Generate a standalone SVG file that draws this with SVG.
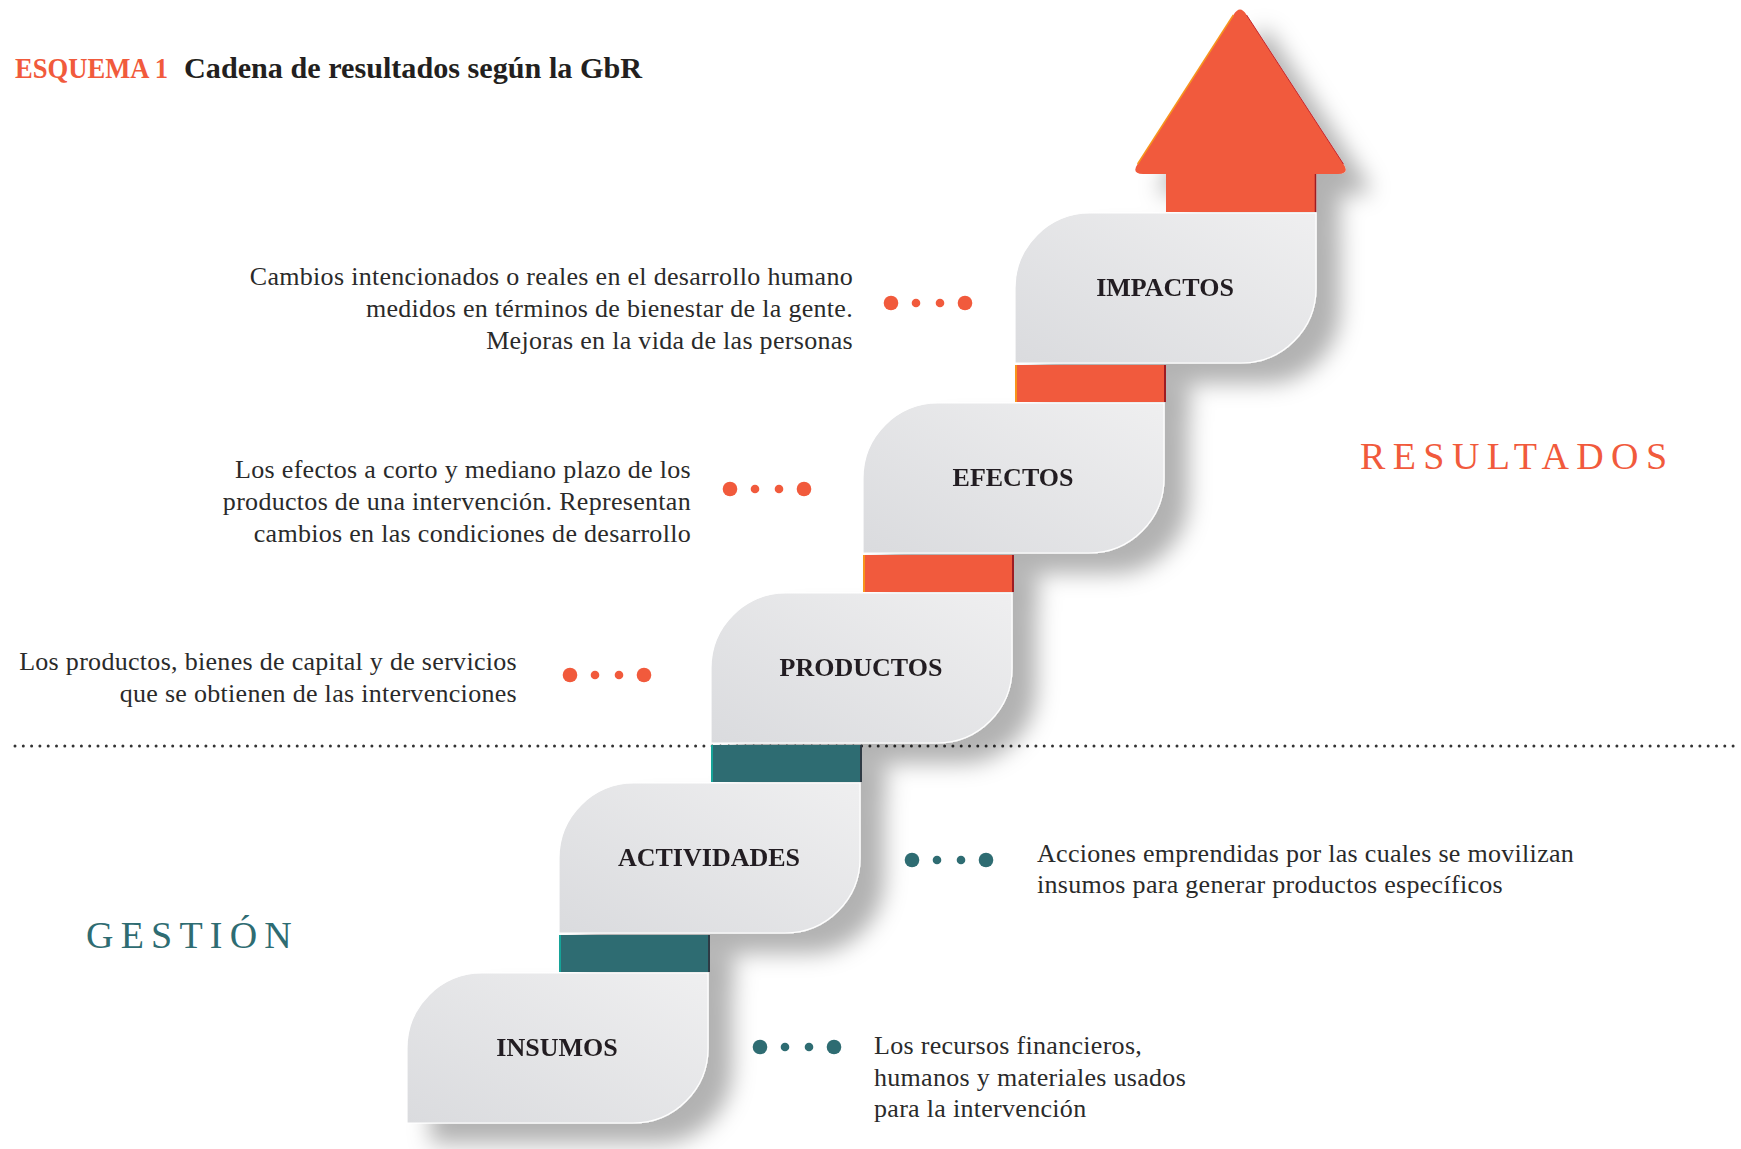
<svg xmlns="http://www.w3.org/2000/svg" width="1741" height="1149" viewBox="0 0 1741 1149">
  <defs>
    <style>
      .title { font-family: "Liberation Serif", serif; font-weight: bold; font-size: 30px; }
      .label { font-family: "Liberation Serif", serif; font-weight: bold; font-size: 26px; fill: #231f20; text-anchor: middle; }
      .desc { font-family: "Liberation Serif", serif; font-size: 26px; letter-spacing: 0.3px; fill: #2a2a2a; }
      .r { text-anchor: end; }
      .big { font-family: "Liberation Serif", serif; font-size: 38px; }
      .box { fill: url(#boxGrad); stroke: #ffffff; stroke-width: 1.2; }
      .obar { fill: #f15a3c; }
      .tbar { fill: #2e6c72; }
      .odot { fill: #f15a3c; }
      .tdot { fill: #2e6c72; }
    </style>
    <linearGradient id="boxGrad" x1="0" y1="1" x2="1" y2="0">
      <stop offset="0" stop-color="#dadbde"/>
      <stop offset="1" stop-color="#efeff0"/>
    </linearGradient>
    <filter id="shadow" x="-10%" y="-10%" width="130%" height="130%">
      <feDropShadow dx="24" dy="20" stdDeviation="11" flood-color="#000000" flood-opacity="0.3"/>
    </filter>
  </defs>

  <rect width="1741" height="1149" fill="#ffffff"/>

  <!-- Title -->
  <g id="title">
    <text class="title" x="15" y="78" fill="#f15a3c" textLength="153" lengthAdjust="spacingAndGlyphs">ESQUEMA 1</text>
    <text class="title" x="184" y="78" fill="#231f20" textLength="458" lengthAdjust="spacingAndGlyphs">Cadena de resultados según la GbR</text>
  </g>

  <!-- Section labels -->
  <text id="resultados" class="big" x="1360" y="469" fill="#f15a3c" letter-spacing="7.4">RESULTADOS</text>
  <text id="gestion" class="big" x="86" y="948" fill="#2e6c72" letter-spacing="7.2">GESTIÓN</text>

  <!-- Divider -->
  <line id="divider" x1="15" y1="746" x2="1736" y2="746" stroke="#333333" stroke-width="3" stroke-linecap="round" stroke-dasharray="0 8.3"/>

  <!-- Staircase -->
  <g filter="url(#shadow)">
    <g id="connectors">
      <g id="bar-impactos-efectos">
        <rect class="obar" x="1015" y="365" width="151" height="37"/>
        <rect x="1015" y="365" width="2" height="37" fill="#f7941d"/>
        <rect x="1164" y="365" width="2" height="37" fill="#9e1b20"/>
      </g>
      <g id="bar-efectos-productos">
        <rect class="obar" x="863" y="555" width="151" height="37"/>
        <rect x="863" y="555" width="2" height="37" fill="#f7941d"/>
        <rect x="1012" y="555" width="2" height="37" fill="#9e1b20"/>
      </g>
      <g id="bar-productos-actividades">
        <rect class="tbar" x="711" y="745" width="151" height="37"/>
        <rect x="711" y="745" width="2" height="37" fill="#17a398"/>
        <rect x="860" y="745" width="2" height="37" fill="#2d3a44"/>
      </g>
      <g id="bar-actividades-insumos">
        <rect class="tbar" x="559" y="935" width="151" height="37"/>
        <rect x="559" y="935" width="2" height="37" fill="#17a398"/>
        <rect x="708" y="935" width="2" height="37" fill="#2d3a44"/>
      </g>
    </g>

    <g id="arrow">
      <path d="M1233.4,15 Q1240,4 1246.6,15 L1343.4,164 Q1350,174 1338,174 L1316,174 L1316,212 L1166,212 L1166,174 L1143,174 Q1131,174 1137.6,164 Z" fill="#f15a3c"/>
      <path d="M1137.6,164 L1233.4,15" stroke="#f7941d" stroke-width="1.5" fill="none"/>
      <path d="M1246.6,15 L1343.4,164" stroke="#c4262e" stroke-width="1" fill="none"/>
      <line x1="1315.5" y1="174" x2="1315.5" y2="212" stroke="#9e1b20" stroke-width="1.5"/>
    </g>

    <g id="node-impactos">
      <path class="box" d="M1015,288 A75,75 0 0 1 1090,213 H1316 V288 A75,75 0 0 1 1241,363 H1015 Z"/>
      <text class="label" x="1165" y="296">IMPACTOS</text>
    </g>
    <g id="node-efectos">
      <path class="box" d="M863,478 A75,75 0 0 1 938,403 H1164 V478 A75,75 0 0 1 1089,553 H863 Z"/>
      <text class="label" x="1013" y="486">EFECTOS</text>
    </g>
    <g id="node-productos">
      <path class="box" d="M711,668 A75,75 0 0 1 786,593 H1012 V668 A75,75 0 0 1 937,743 H711 Z"/>
      <text class="label" x="861" y="676">PRODUCTOS</text>
    </g>
    <g id="node-actividades">
      <path class="box" d="M559,858 A75,75 0 0 1 634,783 H860 V858 A75,75 0 0 1 785,933 H559 Z"/>
      <text class="label" x="709" y="866">ACTIVIDADES</text>
    </g>
    <g id="node-insumos">
      <path class="box" d="M407,1048 A75,75 0 0 1 482,973 H708 V1048 A75,75 0 0 1 633,1123 H407 Z"/>
      <text class="label" x="557" y="1056">INSUMOS</text>
    </g>
  </g>

  <!-- Descriptions -->
  <g id="desc-impactos">
    <text class="desc r" x="853" y="285">Cambios intencionados o reales en el desarrollo humano</text>
    <text class="desc r" x="853" y="317">medidos en términos de bienestar de la gente.</text>
    <text class="desc r" x="853" y="349">Mejoras en la vida de las personas</text>
    <circle class="odot" cx="891" cy="303" r="7.3"/>
    <circle class="odot" cx="916" cy="303" r="4.3"/>
    <circle class="odot" cx="940" cy="303" r="4.3"/>
    <circle class="odot" cx="965" cy="303" r="7.3"/>
  </g>
  <g id="desc-efectos">
    <text class="desc r" x="691" y="478">Los efectos a corto y mediano plazo de los</text>
    <text class="desc r" x="691" y="510">productos de una intervención. Representan</text>
    <text class="desc r" x="691" y="542">cambios en las condiciones de desarrollo</text>
    <circle class="odot" cx="730" cy="489" r="7.3"/>
    <circle class="odot" cx="755" cy="489" r="4.3"/>
    <circle class="odot" cx="779" cy="489" r="4.3"/>
    <circle class="odot" cx="804" cy="489" r="7.3"/>
  </g>
  <g id="desc-productos">
    <text class="desc r" x="517" y="670">Los productos, bienes de capital y de servicios</text>
    <text class="desc r" x="517" y="702">que se obtienen de las intervenciones</text>
    <circle class="odot" cx="570" cy="675" r="7.3"/>
    <circle class="odot" cx="595" cy="675" r="4.3"/>
    <circle class="odot" cx="619" cy="675" r="4.3"/>
    <circle class="odot" cx="644" cy="675" r="7.3"/>
  </g>
  <g id="desc-actividades">
    <text class="desc" x="1037" y="862">Acciones emprendidas por las cuales se movilizan</text>
    <text class="desc" x="1037" y="893">insumos para generar productos específicos</text>
    <circle class="tdot" cx="912" cy="860" r="7.3"/>
    <circle class="tdot" cx="937" cy="860" r="4.3"/>
    <circle class="tdot" cx="961" cy="860" r="4.3"/>
    <circle class="tdot" cx="986" cy="860" r="7.3"/>
  </g>
  <g id="desc-insumos">
    <text class="desc" x="874" y="1054">Los recursos financieros,</text>
    <text class="desc" x="874" y="1086">humanos y materiales usados</text>
    <text class="desc" x="874" y="1117">para la intervención</text>
    <circle class="tdot" cx="760" cy="1047" r="7.3"/>
    <circle class="tdot" cx="785" cy="1047" r="4.3"/>
    <circle class="tdot" cx="809" cy="1047" r="4.3"/>
    <circle class="tdot" cx="834" cy="1047" r="7.3"/>
  </g>
</svg>
